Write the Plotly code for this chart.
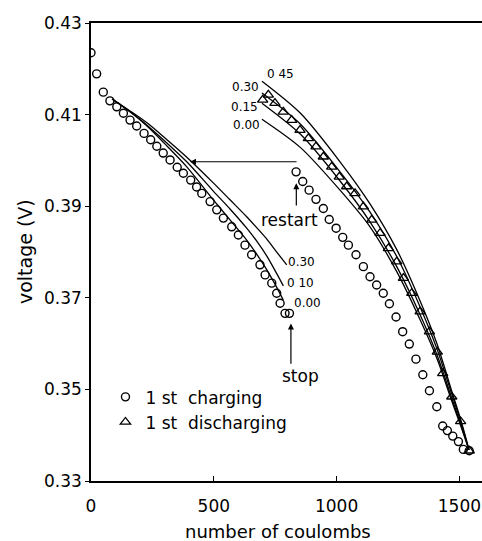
import plotly.graph_objects as go

FONT = "DejaVu Sans"

# ---- data ----
charge_c = [0, 23, 50, 77, 105, 132, 159, 186, 216, 243, 268, 294, 322, 351, 376, 406, 430,
            451, 485, 512, 539, 573, 600, 627, 654, 688, 709, 736, 756, 770, 790, 808,
            835, 862, 888, 916, 946, 970, 998, 1025, 1048, 1079, 1109, 1136, 1163, 1190,
            1215, 1242, 1269, 1296, 1323, 1351, 1378, 1408, 1432, 1451, 1473, 1496, 1516, 1540]
charge_v = [0.4235, 0.4189, 0.4149, 0.4130, 0.4117, 0.4103, 0.4088, 0.4075, 0.4059, 0.4045,
            0.4031, 0.4016, 0.4001, 0.3985, 0.3972, 0.3957, 0.3942,
            0.3928, 0.3910, 0.3892, 0.3874, 0.3855, 0.3837, 0.3815, 0.3794, 0.3772, 0.3750,
            0.3732, 0.3710, 0.3688, 0.3666, 0.3666,
            0.3975, 0.3954, 0.3935, 0.3915, 0.3895, 0.3871, 0.3852, 0.3832, 0.3815, 0.3794,
            0.3768, 0.3746, 0.3728, 0.3710, 0.3687, 0.3658, 0.3626, 0.3599, 0.3566, 0.3532,
            0.3497, 0.3462, 0.3420, 0.3410, 0.3398, 0.3386, 0.3369, 0.3366]

discharge_c = [699, 722, 749, 783, 817, 851, 885, 916, 946, 980, 1011, 1041, 1075, 1109, 1143,
               1177, 1211, 1245, 1272, 1306, 1340, 1378, 1410, 1432, 1469, 1505, 1540]
discharge_v = [0.4132, 0.4143, 0.4125, 0.4106, 0.4088, 0.4066, 0.4048, 0.4030, 0.4008, 0.3986,
               0.3964, 0.3943, 0.3928, 0.3899, 0.3870, 0.3841, 0.3808, 0.3779, 0.3743, 0.3710,
               0.3670, 0.3626, 0.3582, 0.3535, 0.3484, 0.3430, 0.3366]

# model curves, first charging (labels 0.00, 0.10, 0.30)
left000_c = [86, 159, 228, 301, 390, 498, 566, 634, 680, 716, 753, 783]
left000_v = [0.4134, 0.4106, 0.4075, 0.4036, 0.3986, 0.3914, 0.3870, 0.3826, 0.3791, 0.3761, 0.3726, 0.3695]
left010_c = [86, 159, 228, 301, 390, 498, 566, 634, 680, 716, 753, 783]
left010_v = [0.4134, 0.4106, 0.4077, 0.4042, 0.3997, 0.3933, 0.3894, 0.3852, 0.3820, 0.3791, 0.3756, 0.3726]
left030_c = [86, 159, 228, 301, 390, 498, 566, 634, 680, 716, 753, 797]
left030_v = [0.4134, 0.4108, 0.4082, 0.4049, 0.4007, 0.3951, 0.3914, 0.3877, 0.3850, 0.3828, 0.3802, 0.3772]

# model curves, discharging (labels 0.00, 0.15, 0.30, 0.45)
right_c = [696, 851, 1014, 1136, 1246, 1340, 1409, 1470, 1507, 1539]
right045_v = [0.4173, 0.4104, 0.3997, 0.3905, 0.3804, 0.3693, 0.3599, 0.3494, 0.3431, 0.3368]
right030_v = [0.4147, 0.4080, 0.3975, 0.3887, 0.3789, 0.3680, 0.3588, 0.3488, 0.3427, 0.3368]
right015_v = [0.4125, 0.4058, 0.3955, 0.3866, 0.3767, 0.3663, 0.3575, 0.3479, 0.3422, 0.3368]
right000_v = [0.4090, 0.4029, 0.3935, 0.3855, 0.3756, 0.3652, 0.3567, 0.3473, 0.3418, 0.3368]

y_ticks = [0.33, 0.35, 0.37, 0.39, 0.41, 0.43]
y_tick_labels = ["0.33", "0.35", "0.37", "0.39", "0.41", "0.43"]
x_ticks = [0, 500, 1000, 1500]
x_tick_labels = ["0", "500", "1000", "1500"]

left_labels = [("0.30", 858, 0.3779), ("0 10", 851, 0.3733), ("0.00", 881, 0.3688)]
right_labels = [("0 45", 770, 0.4189), ("0.30", 631, 0.4160), ("0.15", 627, 0.4116), ("0.00", 634, 0.4077)]

fig = go.Figure()

line_style = dict(color="black", width=1.3, shape="spline", smoothing=0.8)
for cx, cv in [(left000_c, left000_v), (left010_c, left010_v), (left030_c, left030_v),
               (right_c, right045_v), (right_c, right030_v), (right_c, right015_v),
               (right_c, right000_v)]:
    fig.add_trace(go.Scatter(x=cx, y=cv, mode="lines", line=line_style,
                             showlegend=False, hoverinfo="skip"))

fig.add_trace(go.Scatter(x=charge_c, y=charge_v, mode="markers", name="1\u00a0st\u00a0 charging",
                         marker=dict(symbol="circle-open", size=8, color="black",
                                     line=dict(width=1.4, color="black"))))
fig.add_trace(go.Scatter(x=discharge_c, y=discharge_v, mode="markers", name="1\u00a0st\u00a0 discharging",
                         marker=dict(symbol="triangle-up-open", size=9, color="black",
                                     line=dict(width=1.3, color="black"))))

annotations = []
for txt, cx, cv in left_labels + right_labels:
    annotations.append(dict(x=cx, y=cv, text=txt, showarrow=False,
                            font=dict(family=FONT, size=12, color="black")))
annotations.append(dict(x=810, y=0.3870, text="restart", showarrow=False,
                        font=dict(family=FONT, size=17, color="black")))
annotations.append(dict(x=851, y=0.3529, text="stop", showarrow=False,
                        font=dict(family=FONT, size=17, color="black")))
# arrows
arrow_common = dict(text="", showarrow=True, axref="x", ayref="y", arrowhead=2,
                    arrowsize=1, arrowwidth=1.2, arrowcolor="black")
annotations.append(dict(x=403, y=0.3997, ax=843, ay=0.3997, **arrow_common))
annotations.append(dict(x=836, y=0.3950, ax=836, ay=0.3898, **arrow_common))
annotations.append(dict(x=814, y=0.3644, ax=814, ay=0.3553, **arrow_common))
# axis titles
annotations.append(dict(xref="paper", yref="paper", x=-0.1688, y=0.502, text="voltage (V)",
                        textangle=-90, showarrow=False, xanchor="center", yanchor="middle",
                        font=dict(family=FONT, size=19, color="black")))
annotations.append(dict(xref="paper", yref="paper", x=0.478, y=-0.1092, text="number of coulombs",
                        showarrow=False, xanchor="center", yanchor="middle",
                        font=dict(family=FONT, size=18, color="black")))

fig.update_layout(
    width=482, height=541,
    margin=dict(l=91, r=0, t=23, b=60),
    paper_bgcolor="white", plot_bgcolor="white",
    font=dict(family=FONT, size=17, color="black"),
    showlegend=True,
    legend=dict(x=0.037, y=0.222, xanchor="left", yanchor="top",
                bgcolor="rgba(0,0,0,0)", font=dict(family=FONT, size=17, color="black"),
                itemwidth=30, tracegroupgap=0),
    annotations=annotations,
)
fig.update_xaxes(range=[0, 1592], tickvals=x_ticks, ticktext=x_tick_labels,
                 showgrid=False, zeroline=False, showline=True, linecolor="black", linewidth=1.5,
                 mirror=True, ticks="inside", ticklen=5, tickwidth=1.2, tickcolor="black",
                 ticklabelstandoff=9, tickfont=dict(family=FONT, size=17, color="black"))
fig.update_yaxes(range=[0.33, 0.43], tickvals=y_ticks, ticktext=y_tick_labels,
                 showgrid=False, zeroline=False, showline=True, linecolor="black", linewidth=1.5,
                 mirror=False, ticks="outside", ticklen=4, tickwidth=1.2, tickcolor="black",
                 tickfont=dict(family=FONT, size=17, color="black"))

fig.write_html("out.html")
